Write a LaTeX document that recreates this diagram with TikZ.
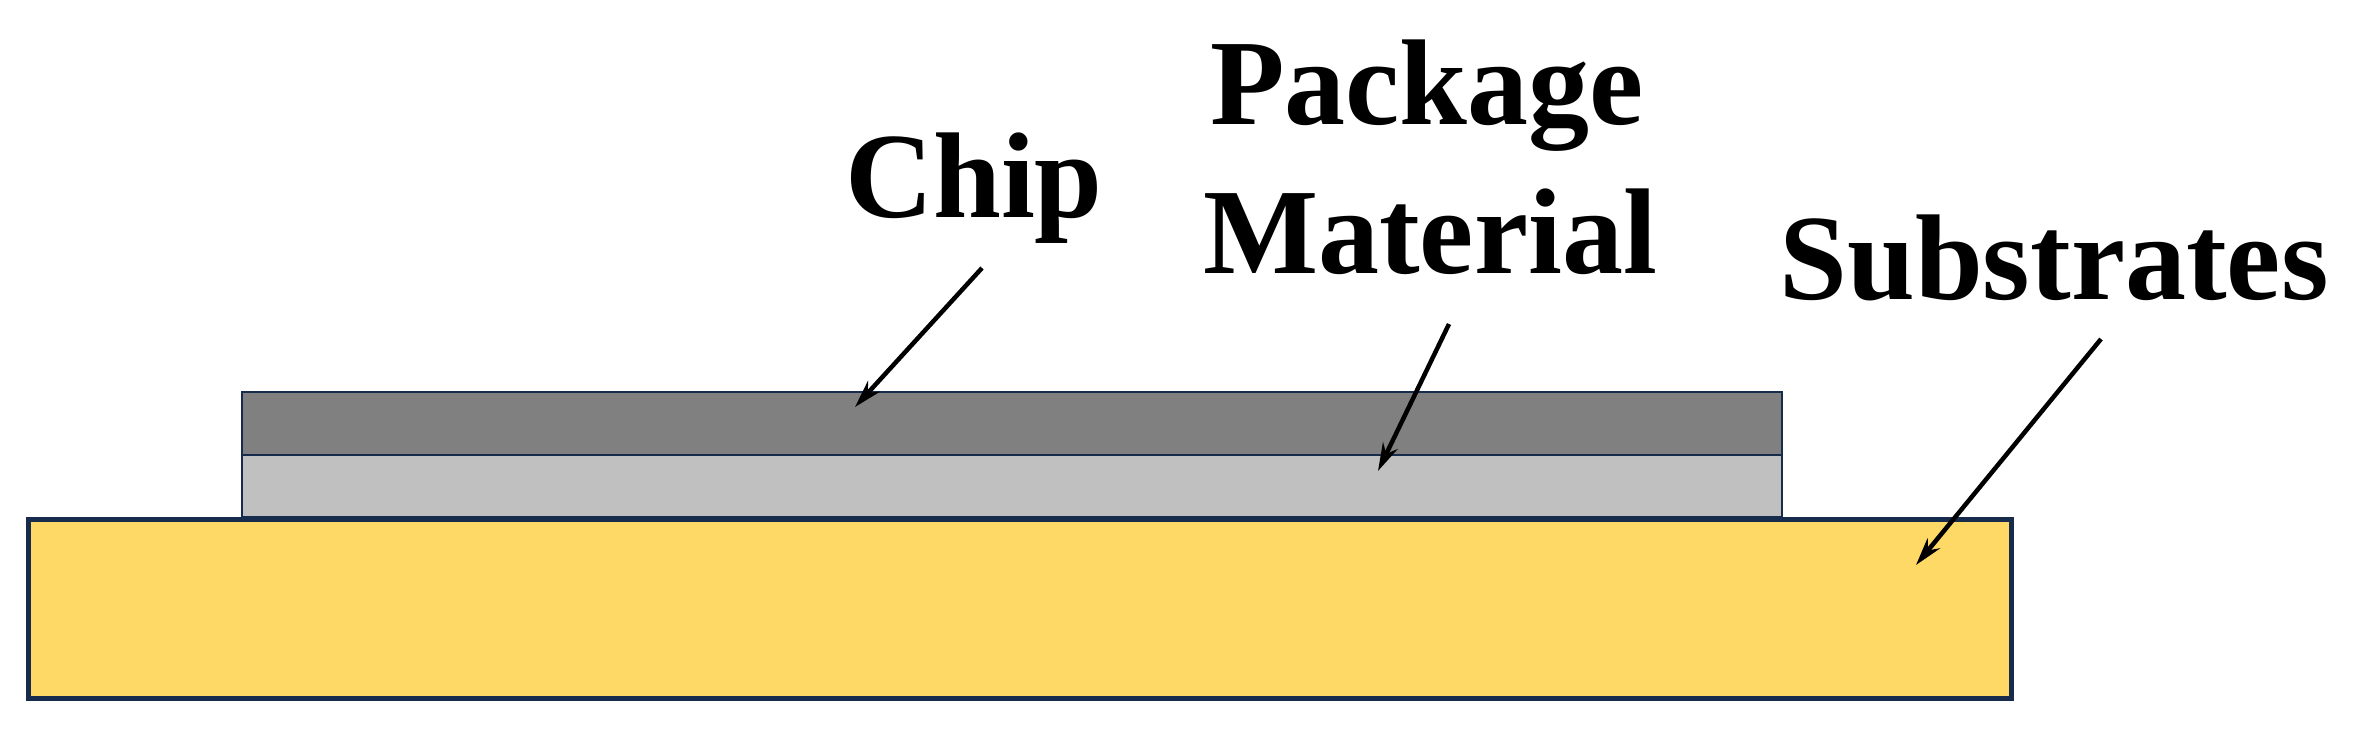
\documentclass[tikz,border=0pt]{standalone}
\usepackage{fontspec}
\setmainfont{Liberation Serif}
\usetikzlibrary{arrows.meta}
\definecolor{navy}{HTML}{172B4D}
\definecolor{gold}{HTML}{FFD966}
\definecolor{chipgray}{HTML}{808080}
\definecolor{pkggray}{HTML}{C0C0C0}
\tikzset{
  lbl/.style={font=\fontsize{122}{124}\selectfont\bfseries, inner sep=0pt, align=center},
  ptr/.style={line width=4.5pt, -{Stealth[length=28pt,width=16pt]}}
}
\begin{document}
\begin{tikzpicture}[x=1pt,y=-1pt]
\useasboundingbox (0,0) rectangle (2361,735);
\draw[navy, line width=5pt, fill=gold] (28,519) rectangle (2011,698);
\draw[navy, line width=2.5pt, fill=pkggray] (242,455) rectangle (1782,517);
\draw[navy, line width=2.5pt, fill=chipgray] (242,392) rectangle (1782,455);
\node[lbl, anchor=base] (chip) at (974,218) {Chip};
\node[lbl, anchor=base] (pkg) at (1427,125) {Package};
\node[lbl, anchor=base] (mat) at (1430,274) {Material};
\node[lbl, anchor=base] (sub) at (2054,300) {Substrates};
\coordinate (c1) at (982,268); \coordinate (c2) at (855,407);
\coordinate (p1) at (1449,324); \coordinate (p2) at (1378,471);
\coordinate (s1) at (2101,339); \coordinate (s2) at (1916,565);
\draw[ptr] (c1) -- (c2);
\draw[ptr] (p1) -- (p2);
\draw[ptr] (s1) -- (s2);
\end{tikzpicture}
\end{document}
